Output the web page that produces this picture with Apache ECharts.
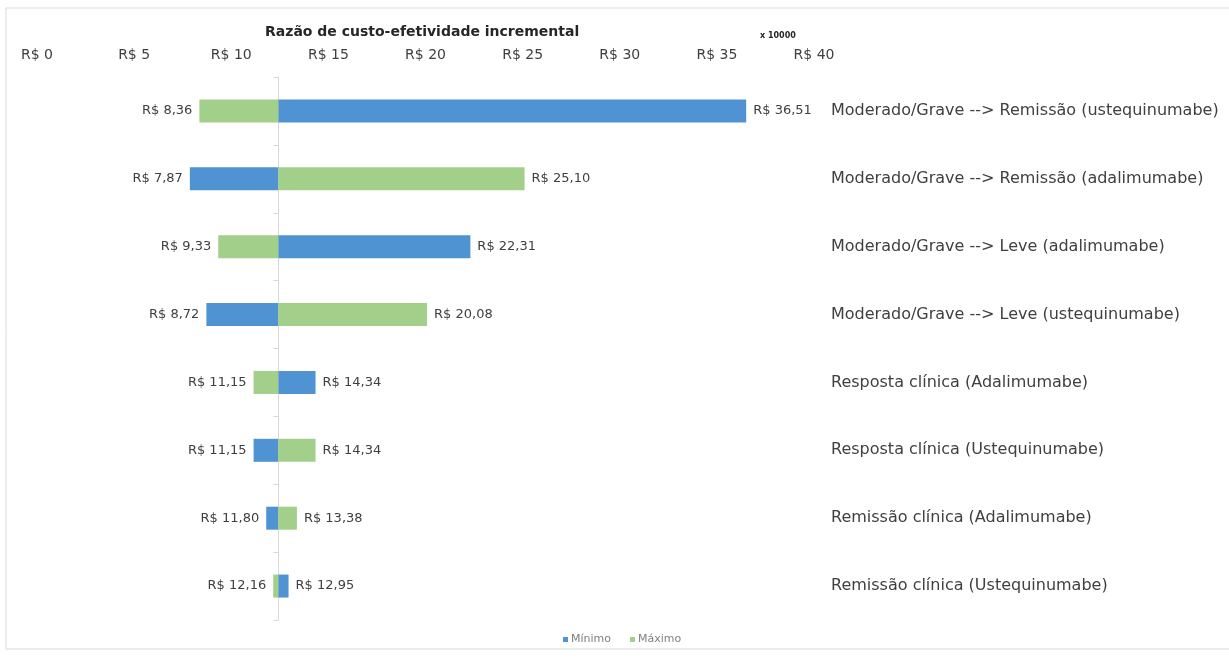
<!DOCTYPE html>
<html>
<head>
<meta charset="utf-8">
<script src="https://cdn.jsdelivr.net/npm/echarts@6/dist/echarts.min.js"></script>
<style>
  html, body { margin: 0; padding: 0; background: #fff; }
  #main { width: 1229px; height: 659px; }
</style>
</head>
<body>
<div id="main"></div>
<script>
// categorias (de cima para baixo)
var categories = [
    'Moderado/Grave --> Remissão (ustequinumabe)',
    'Moderado/Grave --> Remissão (adalimumabe)',
    'Moderado/Grave --> Leve (adalimumabe)',
    'Moderado/Grave --> Leve (ustequinumabe)',
    'Resposta clínica (Adalimumabe)',
    'Resposta clínica (Ustequinumabe)',
    'Remissão clínica (Adalimumabe)',
    'Remissão clínica (Ustequinumabe)'
];
// valores (x 10000)
var minimo = [36.51, 7.87, 22.31, 8.72, 14.34, 11.15, 11.80, 12.95];
var maximo = [8.36, 25.10, 9.33, 20.08, 11.15, 14.34, 13.38, 12.16];
// caso base
var baseValue = 12.42;
var tickLabels = ['R$ 0', 'R$ 5', 'R$ 10', 'R$ 15', 'R$ 20', 'R$ 25', 'R$ 30', 'R$ 35', 'R$ 40'];

var FONT = '"DejaVu Sans", "Liberation Sans", Arial, sans-serif';
var BLUE = '#4f93d3';
var GREEN = '#a2cf8a';

function fmt(v) {
    return 'R$ ' + v.toFixed(2).replace('.', ',');
}

// parte invisivel da pilha: do zero ate o inicio da barra
function placeholder(arr) {
    return arr.map(function (v) { return Math.min(v, baseValue); });
}

function segment(arr) {
    return arr.map(function (v) {
        return {
            value: Math.abs(v - baseValue),
            label: { position: v < baseValue ? 'left' : 'right' }
        };
    });
}

function makeSeries(name, arr, color, stack) {
    return [{
        type: 'bar',
        name: '_' + stack,
        stack: stack,
        barWidth: 23,
        barGap: '-100%',
        silent: true,
        itemStyle: { color: 'transparent' },
        data: placeholder(arr)
    }, {
        type: 'bar',
        name: name,
        stack: stack,
        barWidth: 23,
        barGap: '-100%',
        itemStyle: { color: color },
        label: {
            show: true,
            distance: 7,
            color: '#404040',
            fontSize: 13,
            fontFamily: FONT,
            formatter: function (p) { return fmt(arr[p.dataIndex]); }
        },
        data: segment(arr)
    }];
}

var gridLeft = 37, gridWidth = 777;
var baseOffset = baseValue / 40 * gridWidth;

var option = {
    animation: false,
    backgroundColor: '#fff',
    textStyle: { fontFamily: FONT },
    graphic: [{
        type: 'rect',
        shape: { x: 6, y: 8, width: 1240, height: 641 },
        style: { fill: 'none', stroke: '#d9d9d9', lineWidth: 1 },
        z: -1
    }, {
        type: 'text',
        left: 265, top: 25,
        style: { text: 'Razão de custo-efetividade incremental', font: 'bold 14px ' + FONT, fill: '#262626' }
    }, {
        type: 'text',
        left: 760, top: 32,
        style: { text: 'x 10000', font: 'bold 8px ' + FONT, fill: '#262626' }
    }],
    legend: {
        top: 629,
        left: 558,
        data: ['Mínimo', 'Máximo'],
        itemWidth: 5,
        itemHeight: 5,
        itemGap: 19,
        icon: 'rect',
        textStyle: { fontSize: 11, color: '#7f7f7f', fontFamily: FONT, padding: [0, 0, 0, -2] }
    },
    grid: { left: gridLeft, width: gridWidth, top: 77, height: 543 },
    xAxis: {
        type: 'value',
        position: 'top',
        min: 0,
        max: 40,
        interval: 5,
        axisLine: { show: false },
        axisTick: { show: false },
        splitLine: { show: false },
        axisLabel: {
            margin: 15,
            fontSize: 14,
            color: '#404040',
            fontFamily: FONT,
            formatter: function (v) { return tickLabels[v / 5]; }
        }
    },
    yAxis: [{
        type: 'category',
        data: categories,
        inverse: true,
        position: 'right',
        axisLine: { show: false },
        axisTick: { show: false },
        axisLabel: {
            margin: 17,
            align: 'left',
            fontSize: 16,
            color: '#404040',
            fontFamily: FONT
        }
    }, {
        // eixo vertical no caso base
        type: 'category',
        data: categories,
        inverse: true,
        position: 'left',
        offset: -baseOffset,
        axisLine: { show: true, lineStyle: { color: '#d9d9d9' } },
        axisTick: { show: true, length: 5, lineStyle: { color: '#d9d9d9' } },
        axisLabel: { show: false }
    }],
    series: [].concat(
        makeSeries('Mínimo', minimo, BLUE, 'min'),
        makeSeries('Máximo', maximo, GREEN, 'max')
    )
};

var myChart = echarts.init(document.getElementById('main'));
myChart.setOption(option, true);
</script>
</body>
</html>
